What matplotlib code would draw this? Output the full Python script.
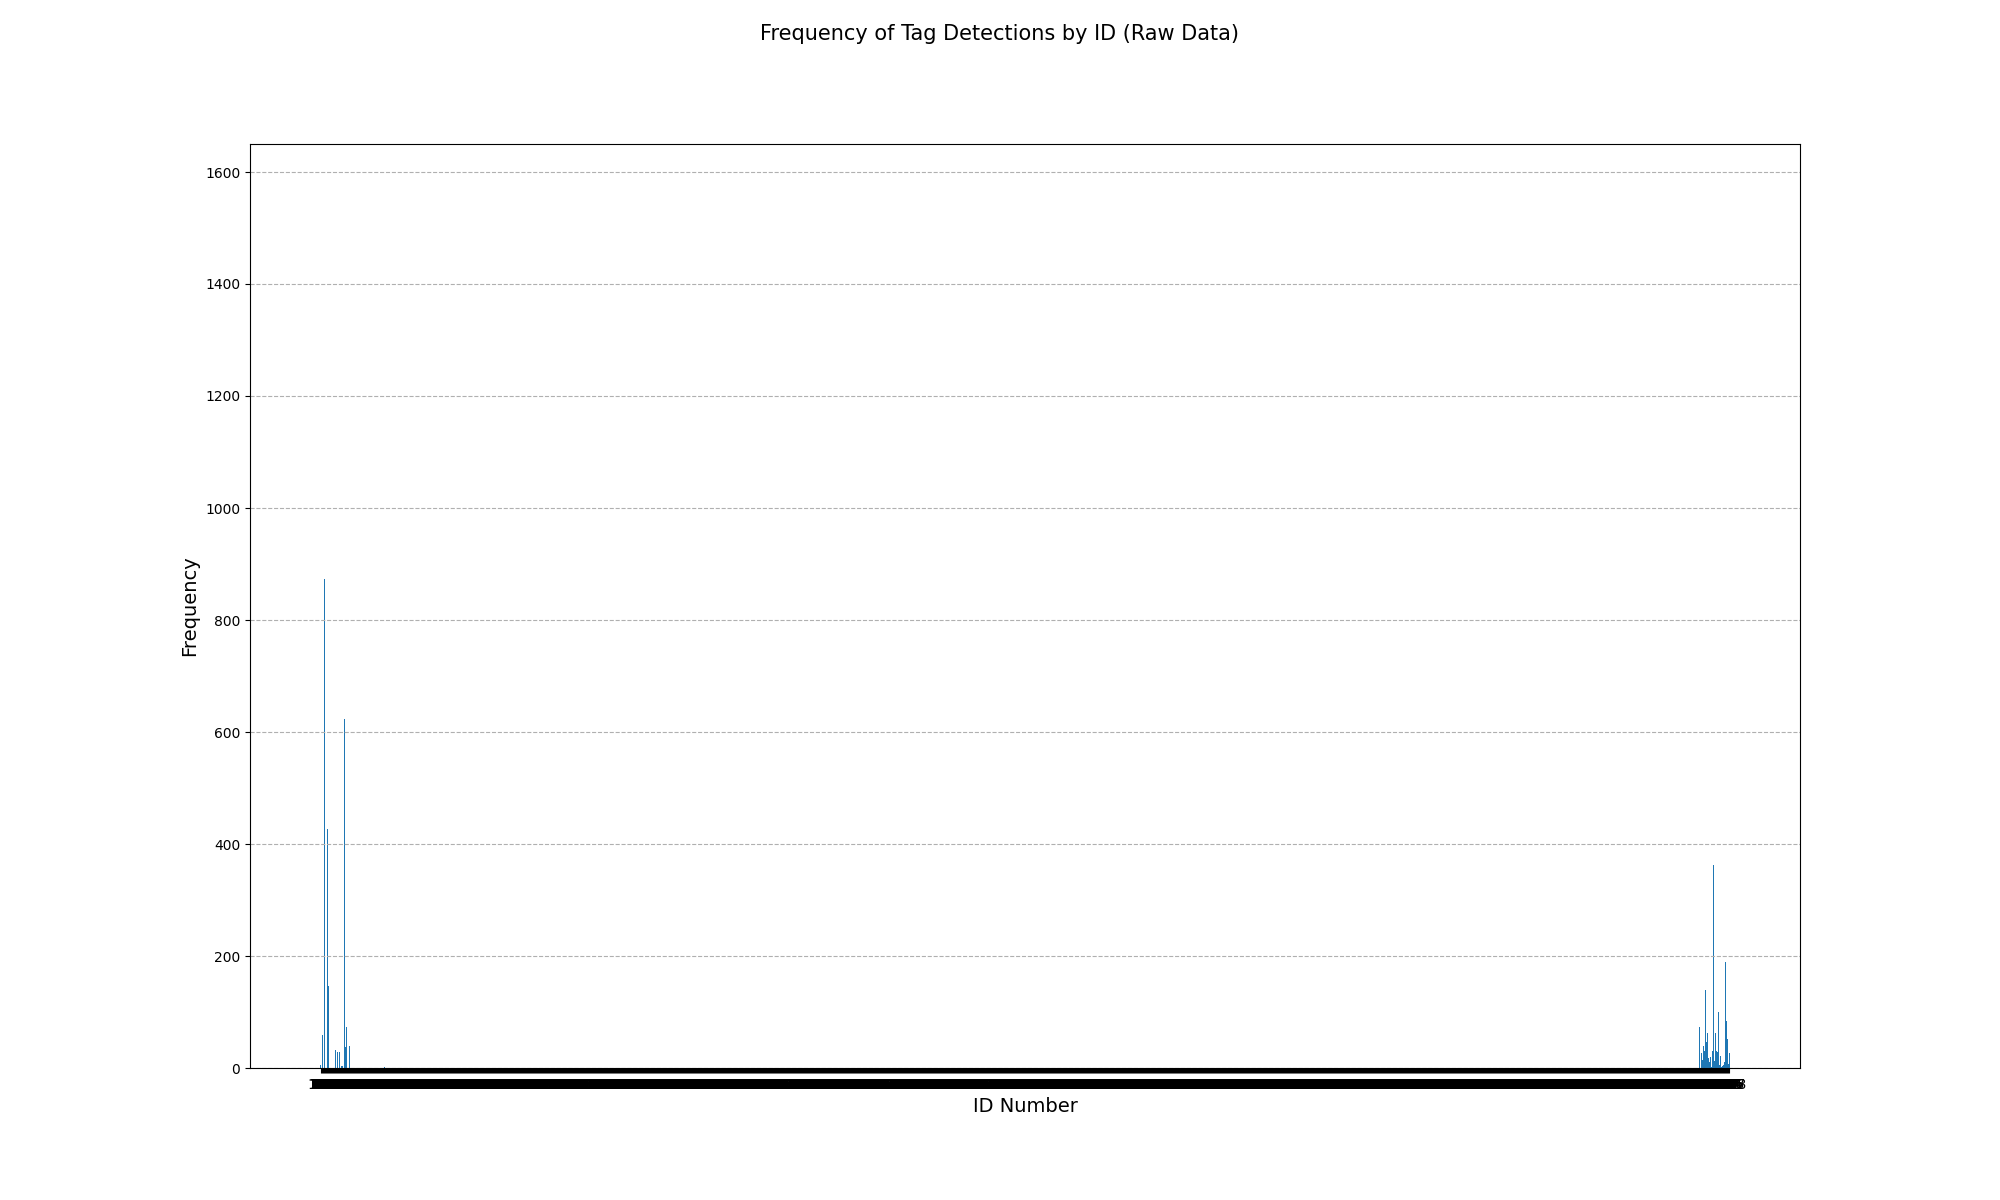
import numpy as np
import pandas as pd
import matplotlib
matplotlib.use("Agg")
import matplotlib.pyplot as plt

OUT = "out.png"

# ID range seen on the x axis (one tick per ID)
FIRST_ID = 100
LAST_ID = 1508
NOISE_COUNT = 0  # IDs in between show no visible bar

# low-ID cluster
left_ids = [100, 102, 104, 107, 108, 115, 117, 119, 121, 122, 124, 125, 126, 129]
left_counts = [6, 59, 873, 427, 146, 32, 29, 29, 3, 3, 623, 38, 73, 39]

# high-ID cluster
right_ids = [1478, 1480, 1481, 1482, 1483, 1484, 1485, 1486, 1487, 1488,
             1489, 1490, 1491, 1492, 1493, 1494, 1495, 1496, 1497, 1498,
             1499, 1500, 1501, 1502, 1503, 1504, 1505, 1506, 1507, 1508]
right_counts = [73, 27, 14, 39, 31, 139, 47, 63, 17, 11,
                20, 2, 31, 362, 13, 63, 31, 28, 100, 5,
                21, 2, 3, 5, 11, 189, 84, 52, 7, 27]

# a few stray IDs with a couple of hits
speck_ids = [164, 545, 565, 797]
speck_counts = [2, 2, 2, 2]

ids = np.arange(FIRST_ID, LAST_ID + 1)
counts = pd.Series(NOISE_COUNT, index=ids)
counts.loc[left_ids] = left_counts
counts.loc[right_ids] = right_counts
counts.loc[speck_ids] = speck_counts

fig, ax = plt.subplots(figsize=(20, 12), dpi=100)
ax.bar(counts.index, counts.values)
ax.set_xticks(counts.index)
ax.set_ylim(0, 1650)
ax.grid(axis="y", linestyle="--")
ax.set_xlabel("ID Number", fontsize=14)
ax.set_ylabel("Frequency", fontsize=14)
fig.suptitle("Frequency of Tag Detections by ID (Raw Data)", fontsize=15)

fig.savefig(OUT)
